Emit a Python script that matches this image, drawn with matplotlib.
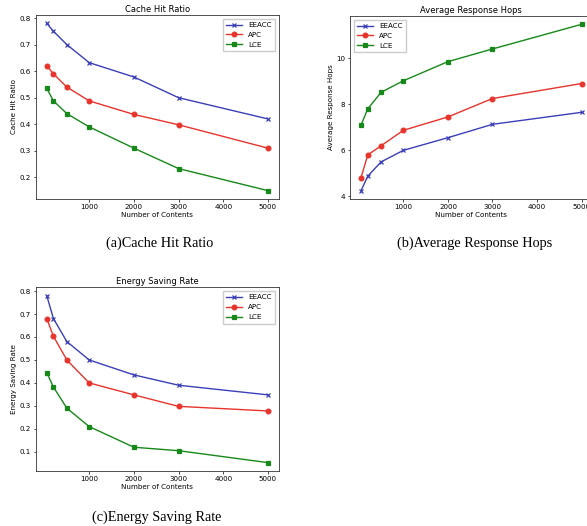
import matplotlib
matplotlib.use("Agg")
import matplotlib.pyplot as plt

# number of cached contents (x axis shared by all three panels)
contents = [50, 200, 500, 1000, 2000, 3000, 5000]
methods = ["EEACC", "APC", "LCE"]

hit_eeacc = [0.78, 0.75, 0.70, 0.632, 0.578, 0.50, 0.42]
hit_apc = [0.62, 0.59, 0.54, 0.488, 0.437, 0.398, 0.31]
hit_lce = [0.535, 0.488, 0.44, 0.39, 0.31, 0.233, 0.15]

hops_eeacc = [4.25, 4.88, 5.5, 6.0, 6.55, 7.13, 7.65]
hops_apc = [4.82, 5.8, 6.2, 6.87, 7.45, 8.25, 8.9]
hops_lce = [7.1, 7.8, 8.52, 9.02, 9.85, 10.4, 11.47]

esr_eeacc = [0.78, 0.68, 0.58, 0.50, 0.435, 0.39, 0.348]
esr_apc = [0.68, 0.603, 0.50, 0.40, 0.348, 0.298, 0.278]
esr_lce = [0.445, 0.382, 0.29, 0.21, 0.12, 0.105, 0.053]

x_ticks = [1000, 2000, 3000, 4000, 5000]

COLORS = ["#3b3fb8", "#e8342c", "#17891a"]
MARKERS = ["x", "o", "s"]
FS = 5.1


def draw_panel(ax, series, title, ylabel, yticks, legend_loc):
    for name, vals, c, m in zip(methods, series, COLORS, MARKERS):
        ax.plot(contents, vals, color=c, marker=m, lw=1.0, ms=3.4,
                mew=0.9, label=name)
    ax.set_xticks(x_ticks)
    ax.set_yticks(yticks)
    ax.tick_params(labelsize=FS, length=1.8, width=0.5, pad=1.5)
    ax.set_title(title, fontsize=6.0, pad=2.5)
    ax.set_xlabel("Number of Contents", fontsize=FS, labelpad=1.5)
    ax.set_ylabel(ylabel, fontsize=FS, labelpad=2)
    for s in ax.spines.values():
        s.set_linewidth(0.6)
        s.set_color("#333333")
    ax.legend(loc=legend_loc, fontsize=FS, handlelength=2.2,
              borderpad=0.5, labelspacing=0.55, handletextpad=0.9,
              framealpha=1, edgecolor="#cccccc", fancybox=False)


fig = plt.figure(figsize=(5.87, 5.26), dpi=100)

ax_a = fig.add_axes([0.0608, 0.6217, 0.4145, 0.3498])
draw_panel(ax_a, [hit_eeacc, hit_apc, hit_lce], "Cache Hit Ratio",
           "Cache Hit Ratio", [0.2, 0.3, 0.4, 0.5, 0.6, 0.7, 0.8], "upper right")

ax_b = fig.add_axes([0.5963, 0.6217, 0.4133, 0.3479])
draw_panel(ax_b, [hops_eeacc, hops_apc, hops_lce], "Average Response Hops",
           "Average Response Hops", [4, 6, 8, 10], "upper left")

ax_c = fig.add_axes([0.0608, 0.1046, 0.4145, 0.3492])
draw_panel(ax_c, [esr_eeacc, esr_apc, esr_lce], "Energy Saving Rate",
           "Energy Saving Rate", [0.1, 0.2, 0.3, 0.4, 0.5, 0.6, 0.7, 0.8],
           "upper right")

cap = dict(fontsize=10.3, family="Liberation Serif", ha="center", va="center")
fig.text(160 / 587, 1 - 243 / 526, "(a)Cache Hit Ratio", **cap)
fig.text(475 / 587, 1 - 243 / 526, "(b)Average Response Hops", **cap)
fig.text(157 / 587, 1 - 517 / 526, "(c)Energy Saving Rate", **cap)

fig.savefig("out.png", dpi=100)
